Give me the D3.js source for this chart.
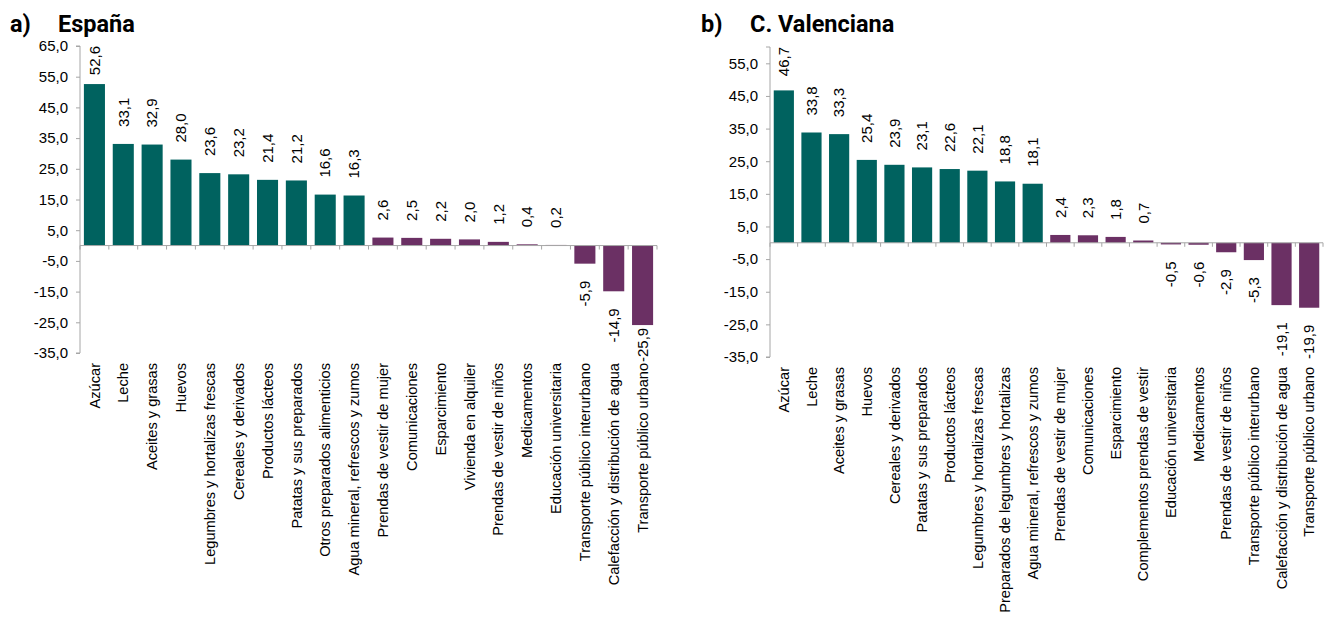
<!DOCTYPE html>
<html>
<head>
<meta charset="utf-8">
<script src="https://cdn.jsdelivr.net/npm/d3@7"></script>
<style>
  body { margin: 0; background: #fff; }
  svg { display: block; font-family: "Liberation Sans", Arial, sans-serif; }
</style>
</head>
<body>
<div id="app"></div>
<script>
// a) España
const espCategories = [
  'Azúcar', 'Leche', 'Aceites y grasas', 'Huevos', 'Legumbres y hortalizas frescas',
  'Cereales y derivados', 'Productos lácteos', 'Patatas y sus preparados',
  'Otros preparados alimenticios', 'Agua mineral, refrescos  y zumos',
  'Prendas de vestir de mujer', 'Comunicaciones', 'Esparcimiento', 'Vivienda en alquiler',
  'Prendas de vestir de niños', 'Medicamentos', 'Educación universitaria',
  'Transporte público interurbano', 'Calefacción y distribución de agua', 'Transporte público urbano',
];
const espValues = [52.6, 33.1, 32.9, 28.0, 23.6, 23.2, 21.4, 21.2, 16.6, 16.3,
  2.6, 2.5, 2.2, 2.0, 1.2, 0.4, 0.2, -5.9, -14.9, -25.9];
const espTicks = [65, 55, 45, 35, 25, 15, 5, -5, -15, -25, -35];

// b) C. Valenciana
const cvCategories = [
  'Azúcar', 'Leche', 'Aceites y grasas', 'Huevos', 'Cereales y derivados',
  'Patatas y sus preparados', 'Productos lácteos', 'Legumbres y hortalizas frescas',
  'Preparados de legumbres y hortalizas', 'Agua mineral, refrescos  y zumos',
  'Prendas de vestir de mujer', 'Comunicaciones', 'Esparcimiento',
  'Complementos prendas de vestir', 'Educación universitaria', 'Medicamentos',
  'Prendas de vestir de niños', 'Transporte público interurbano',
  'Calefacción y distribución de agua', 'Transporte público urbano',
];
const cvValues = [46.7, 33.8, 33.3, 25.4, 23.9, 23.1, 22.6, 22.1, 18.8, 18.1,
  2.4, 2.3, 1.8, 0.7, -0.5, -0.6, -2.9, -5.3, -19.1, -19.9];
const cvTicks = [55, 45, 35, 25, 15, 5, -5, -15, -25, -35];

// first ten series are food items (teal), rest purple
const foodCount = 10;
const teal = '#00625f';
const purple = '#6b3064';
const axisColor = '#a6a6a6';
const textSize = 15;
const catSize = 14.6;

const fmt = v => v.toFixed(1).replace('.', ',');

const svg = d3.select('#app').append('svg')
  .attr('width', 1324)
  .attr('height', 635);

function drawChart(opts) {
  const g = svg.append('g');

  const x = d3.scaleBand()
    .domain(opts.categories)
    .range([opts.left, opts.right])
    .paddingInner(0.27)
    .paddingOuter(0.135);

  const y = d3.scaleLinear()
    .domain(opts.domain)
    .range([opts.bottom, opts.top]);

  // titles
  g.append('text')
    .attr('x', opts.letterX)
    .attr('y', 32)
    .attr('font-family', 'Roboto, sans-serif')
    .attr('font-size', 23.5)
    .attr('font-weight', 'bold')
    .text(opts.letter);
  g.append('text')
    .attr('x', opts.titleX)
    .attr('y', 32)
    .attr('font-family', 'Roboto, sans-serif')
    .attr('font-size', 23.5)
    .attr('font-weight', 'bold')
    .text(opts.title);

  // y axis
  const yAxis = d3.axisLeft(y)
    .tickValues(opts.ticks)
    .tickSize(4)
    .tickPadding(8)
    .tickFormat(fmt);
  const yAxisGroup = g.append('g')
    .attr('transform', `translate(${opts.left},0)`)
    .call(yAxis);
  yAxisGroup.select('.domain').attr('stroke', axisColor).attr('d', `M-4,${y(opts.domain[1])}H0V${y(opts.domain[0])}H-4`);
  yAxisGroup.selectAll('.tick line').attr('stroke', axisColor);
  yAxisGroup.selectAll('.tick text')
    .attr('font-size', textSize)
    .attr('font-family', '"Liberation Sans", Arial, sans-serif')
    .attr('fill', '#000');

  // bars
  g.append('g')
    .selectAll('rect')
    .data(opts.values)
    .enter()
    .append('rect')
    .attr('x', (d, i) => x(opts.categories[i]))
    .attr('width', x.bandwidth())
    .attr('y', d => y(Math.max(0, d)))
    .attr('height', d => Math.abs(y(d) - y(0)))
    .attr('fill', (d, i) => (i < foodCount ? teal : purple));

  // x axis line at zero with ticks at category boundaries
  const zeroY = y(0);
  g.append('line')
    .attr('x1', opts.left)
    .attr('x2', opts.right)
    .attr('y1', zeroY)
    .attr('y2', zeroY)
    .attr('stroke', axisColor);
  const step = x.step();
  const boundaries = opts.categories.map(c => x(c) - (step - x.bandwidth()) / 2);
  boundaries.push(opts.right);
  g.append('g')
    .selectAll('line')
    .data(boundaries)
    .enter()
    .append('line')
    .attr('x1', d => d)
    .attr('x2', d => d)
    .attr('y1', zeroY)
    .attr('y2', zeroY + 4)
    .attr('stroke', axisColor);

  // category labels, rotated, hanging from plot bottom
  g.append('g')
    .selectAll('text')
    .data(opts.categories)
    .enter()
    .append('text')
    .attr('transform', d => `translate(${x(d) + x.bandwidth() / 2},${opts.bottom + 10}) rotate(-90)`)
    .attr('text-anchor', 'end')
    .attr('dy', '0.35em')
    .attr('font-size', catSize)
    .text(d => d);

  // value labels
  const gap = 17;
  g.append('g')
    .selectAll('text')
    .data(opts.values)
    .enter()
    .append('text')
    .attr('font-size', textSize)
    .attr('dy', '0.35em')
    .text(d => fmt(d))
    .each(function (d, i) {
      const len = this.getComputedTextLength();
      const cx = x(opts.categories[i]) + x.bandwidth() / 2;
      let pos;
      if (d >= 0) {
        pos = y(d) - gap;
        if (pos - len < opts.top) pos = opts.top + len;
        d3.select(this).attr('text-anchor', 'start');
      } else {
        pos = y(d) + gap;
        if (pos + len > opts.bottom + 9) pos = opts.bottom + 9 - len;
        d3.select(this).attr('text-anchor', 'end');
      }
      d3.select(this).attr('transform', `translate(${cx},${pos}) rotate(-90)`);
    });
}

drawChart({
  categories: espCategories,
  values: espValues,
  ticks: espTicks,
  domain: [-35, 65],
  left: 80,
  right: 657,
  top: 46,
  bottom: 353,
  letter: 'a)',
  letterX: 10,
  title: 'España',
  titleX: 58,
});

drawChart({
  categories: cvCategories,
  values: cvValues,
  ticks: cvTicks,
  domain: [-35, 60],
  left: 770,
  right: 1323,
  top: 47,
  bottom: 357,
  letter: 'b)',
  letterX: 701,
  title: 'C. Valenciana',
  titleX: 750,
});
</script>
</body>
</html>
